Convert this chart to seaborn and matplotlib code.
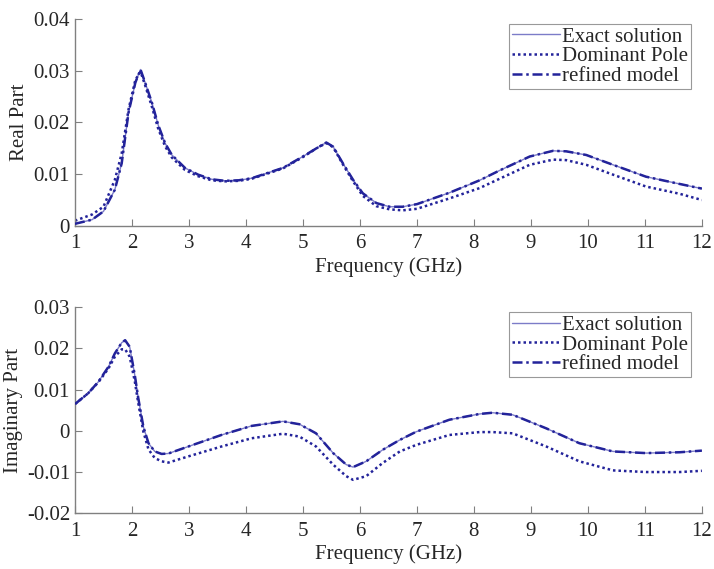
import matplotlib
matplotlib.use("Agg")
import matplotlib.pyplot as plt
import seaborn as sns

# real part
f_re = [1.0, 1.3, 1.5, 1.7, 1.82, 1.94, 2.06, 2.15, 2.23, 2.35, 2.46, 2.58, 2.7, 2.93,
        3.16, 3.4, 3.63, 3.87, 4.1, 4.65, 5.0, 5.24, 5.41, 5.53, 5.7, 5.88, 6.05, 6.29,
        6.52, 6.75, 7.0, 7.57, 8.1, 8.45, 8.98, 9.39, 9.62, 9.97, 10.44, 11.02, 11.61, 12.0]
refined_re = [0.0004, 0.0012, 0.0028, 0.0070, 0.0121, 0.0219, 0.0277, 0.0302, 0.0277, 0.0238,
              0.0195, 0.0160, 0.0137, 0.0112, 0.0099, 0.0090, 0.0087, 0.0088, 0.0092, 0.0112,
              0.0134, 0.0150, 0.0161, 0.0153, 0.0121, 0.0089, 0.0063, 0.0044, 0.0037, 0.0037,
              0.0042, 0.0064, 0.0088, 0.0107, 0.0134, 0.0145, 0.0144, 0.0137, 0.0118, 0.0095,
              0.0081, 0.0072]
dominant_re = [0.0010, 0.0022, 0.0037, 0.0089, 0.0140, 0.0225, 0.0282, 0.0298, 0.0272, 0.0230,
               0.0188, 0.0154, 0.0132, 0.0108, 0.0096, 0.0088, 0.0086, 0.0087, 0.0091, 0.0111,
               0.0133, 0.0150, 0.0160, 0.0152, 0.0119, 0.0086, 0.0058, 0.0038, 0.0032, 0.0030,
               0.0033, 0.0053, 0.0073, 0.0091, 0.0118, 0.0128, 0.0127, 0.0118, 0.0099, 0.0076,
               0.0062, 0.0050]
exact_re = list(refined_re)

# imaginary part
f_im = [1.0, 1.23, 1.41, 1.59, 1.7, 1.82, 1.88, 1.96, 2.05, 2.11, 2.2, 2.29, 2.4, 2.52, 2.64,
        2.99, 3.57, 4.1, 4.65, 4.94, 5.23, 5.53, 5.76, 5.88, 6.11, 6.4, 6.7, 6.99, 7.57, 8.1,
        8.33, 8.68, 9.27, 9.85, 10.44, 11.02, 11.61, 12.0]
refined_im = [0.0065, 0.0091, 0.0119, 0.0156, 0.0188, 0.0214, 0.0220, 0.0204, 0.0135, 0.0080,
              0.0010, -0.0030, -0.0050, -0.0056, -0.0055, -0.0038, -0.0010, 0.0012, 0.0023,
              0.0016, -0.0006, -0.0054, -0.0082, -0.0088, -0.0074, -0.0046, -0.0022, -0.0002,
              0.0027, 0.0041, 0.0044, 0.0039, 0.0006, -0.0030, -0.0050, -0.0054, -0.0052, -0.0048]
dominant_im = [0.0065, 0.0091, 0.0118, 0.0152, 0.0180, 0.0198, 0.0198, 0.0180, 0.0120, 0.0068,
               -0.0002, -0.0045, -0.0066, -0.0074, -0.0077, -0.0062, -0.0038, -0.0018, -0.0007,
               -0.0014, -0.0038, -0.0082, -0.0110, -0.0119, -0.0110, -0.0078, -0.0050, -0.0034,
               -0.0010, -0.0003, -0.0003, -0.0006, -0.0038, -0.0074, -0.0096, -0.0100, -0.0100,
               -0.0097]
exact_im = list(refined_im)

labels = ["Exact solution", "Dominant Pole", "refined model"]
x_ticks = list(range(1, 13))

sns.set_style("ticks")
plt.rcParams["font.family"] = ["Liberation Serif", "DejaVu Serif"]
plt.rcParams["font.size"] = 15

navy = "#23239a"
light = "#7c7cc8"
gray = "#808080"

fig = plt.figure(figsize=(7.14, 5.69), dpi=100)
ax1 = fig.add_axes([0.105, 0.603, 0.878, 0.364])
ax2 = fig.add_axes([0.105, 0.098, 0.878, 0.362])

panels = [
    (ax1, f_re, exact_re, dominant_re, refined_re, "Real Part", (0, 0.04), [0, 0.01, 0.02, 0.03, 0.04],
     ["0", "0.01", "0.02", "0.03", "0.04"]),
    (ax2, f_im, exact_im, dominant_im, refined_im, "Imaginary Part", (-0.02, 0.03),
     [-0.02, -0.01, 0, 0.01, 0.02, 0.03], ["-0.02", "-0.01", "0", "0.01", "0.02", "0.03"]),
]

for ax, f, ex, dom, ref, ylab, ylim, yt, ytl in panels:
    sns.lineplot(x=f, y=ex, ax=ax, color=light, linewidth=1.0, label=labels[0], zorder=1)
    sns.lineplot(x=f, y=dom, ax=ax, color=navy, linewidth=1.8, linestyle=(0, (1, 1.2)),
                 label=labels[1], zorder=2)
    sns.lineplot(x=f, y=ref, ax=ax, color=navy, linewidth=1.8, linestyle=(0, (4, 1.5, 1, 1.5)),
                 label=labels[2], zorder=3)
    ax.set_xlim(1, 12)
    ax.set_ylim(*ylim)
    ax.set_xticks(x_ticks)
    ax.set_yticks(yt)
    ax.set_yticklabels(ytl)
    ax.set_xlabel("Frequency (GHz)", labelpad=3)
    ax.set_ylabel(ylab, labelpad=3)
    for side in ["top", "right"]:
        ax.spines[side].set_visible(False)
    for side in ["left", "bottom"]:
        ax.spines[side].set_color(gray)
        ax.spines[side].set_linewidth(1.0)
    ax.tick_params(direction="in", length=5, color=gray, width=0.8, labelsize=15)
    ax.tick_params(axis="x", pad=6)
    leg = ax.legend(loc="upper right", bbox_to_anchor=(0.983, 0.975), frameon=True, fancybox=False,
                    handlelength=2.3, handletextpad=0.1, borderpad=0.15, labelspacing=0.0,
                    borderaxespad=0.0, fontsize=15)
    leg.get_frame().set_edgecolor(gray)
    leg.get_frame().set_linewidth(0.8)

fig.savefig("out.png", dpi=100)
